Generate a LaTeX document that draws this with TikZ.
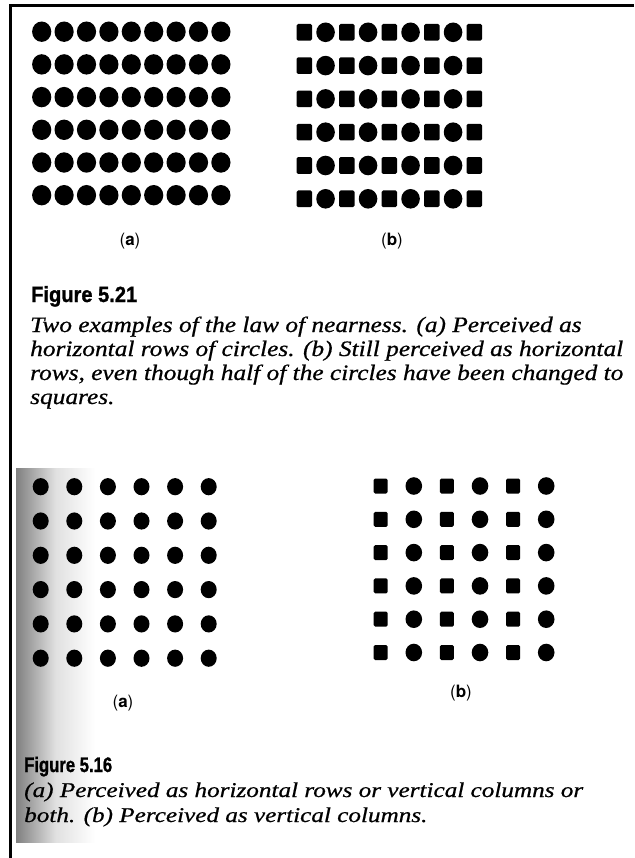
\documentclass[tikz,border=0pt]{standalone}
\usepackage{fontspec}
\usepackage{graphicx}
\setmainfont{Liberation Serif}
\newfontfamily\capfam[ItalicFeatures={FakeBold=0.6}]{Liberation Serif}
\newfontfamily\figfont[BoldFeatures={FakeBold=1.2}]{Liberation Sans}
\newfontfamily\labfont{TeX Gyre Heros}
\newcommand\mycapfont{\capfam\itshape\fontsize{22}{25}\selectfont}
\newcommand\mycapfontb{\capfam\itshape\fontsize{21}{24}\selectfont}
\newlength\capw
\newlength\capwb
\newsavebox\measbox
\tikzset{
  lab/.style={inner sep=0pt, font=\labfont\fontsize{17}{19}\selectfont},
  capline/.style={inner sep=0pt, anchor=base west},
  dot/.style={fill=black},
}
\begin{document}
\sbox\measbox{\mycapfont horizontal rows of circles. (b) Still perceived as horizontal}%
\setlength\capw{\wd\measbox}%
\pgfmathsetmacro\capsx{593/\capw}%
\sbox\measbox{\mycapfontb (a) Perceived as horizontal rows or vertical columns or}%
\setlength\capwb{\wd\measbox}%
\pgfmathsetmacro\capsxb{559/\capwb}%
\begin{tikzpicture}[x=1pt,y=-1pt]
\useasboundingbox (0,0) rectangle (634,858);
\fill[white] (0,0) rectangle (634,858);
% scanned page shadow on lower figure
\shade[left color=black!50, right color=white, middle color=black!12] (16,468) rectangle (95,842);
% frame
\draw[line width=2.6pt] (10.5,858) -- (10.5,5.5) -- (634,5.5);

% ---- Figure 5.21 (a): circles
\foreach \j in {0,...,5}
  \foreach \i in {0,...,8}
    \fill[dot] ({41.7+22.4*\i},{31.7+32.7*\j}) ellipse [x radius=9.6, y radius=10.2];

% ---- Figure 5.21 (b): squares and circles alternating
\foreach \j in {0,...,5}{
  \foreach \i in {0,2,4,6,8}
    \fill[dot, rounded corners=1.5pt] ({304.3+21.25*\i-7.8},{32.3+33.3*\j-8.3}) rectangle ++(15.6,16.6);
  \foreach \i in {1,3,5,7}
    \fill[dot] ({304.3+21.25*\i},{32.3+33.3*\j}) ellipse [x radius=9.3, y radius=9.8];
}

\node[lab] (la1) at (130,241) {(\textbf{a})};
\node[lab] (lb1) at (392,241) {(\textbf{b})};

% caption 5.21
\node[capline] (f1) at (31,302) {\resizebox{106pt}{\height}{\figfont\bfseries\fontsize{22}{24}\selectfont Figure 5.21}};
\node[capline] (c1) at (30,332) {\scalebox{\capsx}[1]{\mycapfont Two examples of the law of nearness. (a) Perceived as}};
\node[capline] (c2) at (30,356) {\scalebox{\capsx}[1]{\mycapfont horizontal rows of circles. (b) Still perceived as horizontal}};
\node[capline] (c3) at (30,380) {\scalebox{\capsx}[1]{\mycapfont rows, even though half of the circles have been changed to}};
\node[capline] (c4) at (30,404) {\scalebox{\capsx}[1]{\mycapfont squares.}};

% ---- Figure 5.16 (a): circles
\foreach \j in {0,...,5}
  \foreach \i in {0,...,5}
    \fill[dot] ({40.7+33.6*\i},{486.7+34.3*\j}) ellipse [x radius=8, y radius=8.6];

% ---- Figure 5.16 (b): columns of squares and circles
\foreach \j in {0,...,5}{
  \foreach \i in {0,2,4}
    \fill[dot, rounded corners=1.5pt] ({380.7+33.1*\i-7},{486+33.3*\j-7.5}) rectangle ++(14,15);
  \foreach \i in {1,3,5}
    \fill[dot] ({380.7+33.1*\i},{486+33.3*\j}) ellipse [x radius=8.3, y radius=8.8];
}

\node[lab] (la2) at (123,703) {(\textbf{a})};
\node[lab] (lb2) at (461,693) {(\textbf{b})};

% caption 5.16
\node[capline] (f2) at (24,772) {\resizebox{88pt}{\height}{\figfont\bfseries\fontsize{21}{23}\selectfont Figure 5.16}};
\node[capline] (d1) at (24,797) {\scalebox{\capsxb}[1]{\mycapfontb (a) Perceived as horizontal rows or vertical columns or}};
\node[capline] (d2) at (24,822) {\scalebox{\capsxb}[1]{\mycapfontb both. (b) Perceived as vertical columns.}};
\end{tikzpicture}
\end{document}
